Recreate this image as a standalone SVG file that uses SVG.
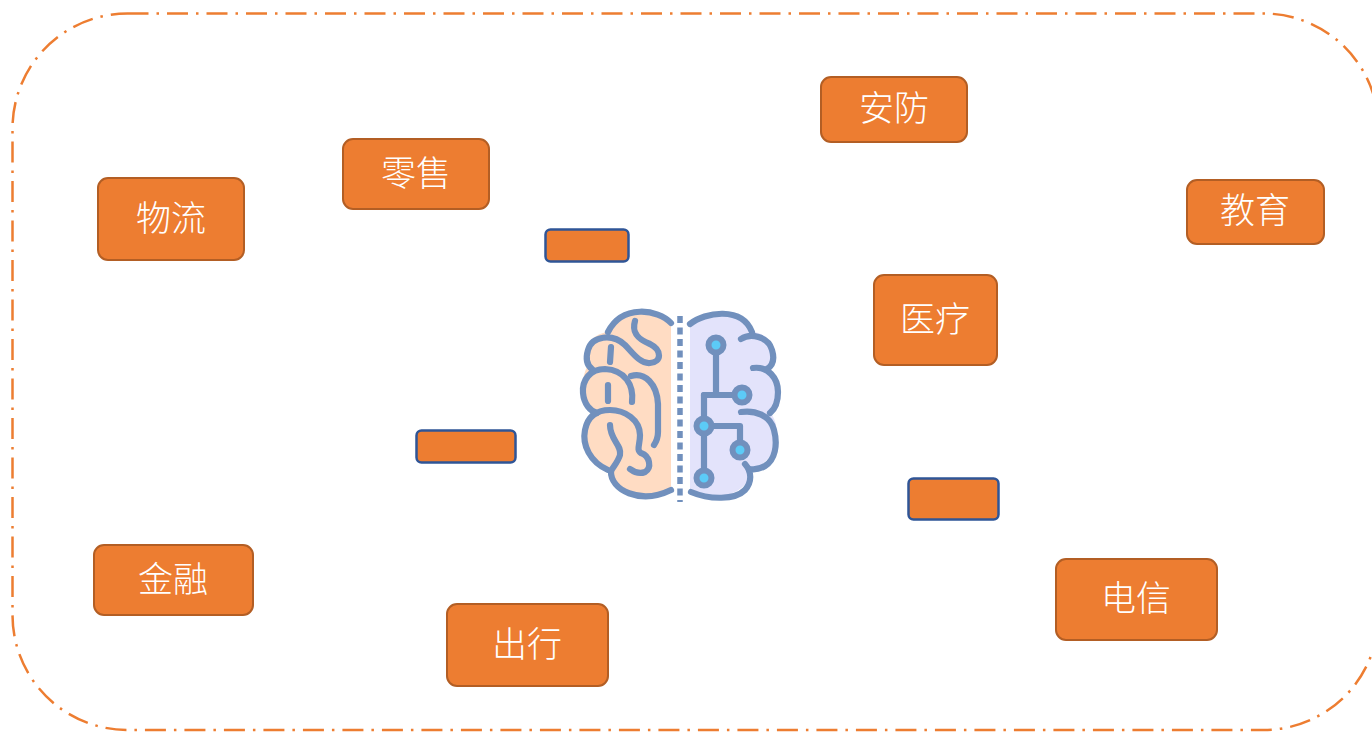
<svg xmlns="http://www.w3.org/2000/svg" width="1372" height="732" viewBox="0 0 1372 732">
  <style>
    .frame { fill: none; stroke: #ED7D31; stroke-width: 2.5; stroke-dasharray: 21 8 2.5 8; }
    .box { fill: #ED7D31; stroke: #B35E24; stroke-width: 2; }
    .tag { fill: #ED7D31; stroke: #2F5597; stroke-width: 2.5; }
    .label { fill: #FFFFFF; font-family: "Noto Sans CJK SC", "Noto Sans", sans-serif; font-size: 35px; font-weight: 300; text-anchor: middle; }
    .line { fill: none; stroke: #7190BD; stroke-width: 6.2; stroke-linecap: round; stroke-linejoin: round; }
    .node { fill: #5CCBF7; stroke: #7190BD; stroke-width: 6; }
  </style>

  <!-- dash-dot outer boundary -->
  <rect class="frame" x="12.5" y="13.5" width="1366" height="716.5" rx="115" ry="115"/>

  <!-- brain icon -->
  <g id="brain">
    <!-- left hemisphere fill -->
    <path d="M671,322 C658,309 622,304 608,332 C590,334 582,350 588,365 C580,380 580,400 592,412 C580,425 582,460 608,470 C612,492 640,505 671,490 Z" fill="#FFDCC3"/>
    <!-- right hemisphere fill -->
    <path d="M690,324 C705,312 742,306 752,332 C772,333 782,355 770,370 C782,380 785,405 772,415 C782,430 778,462 750,470 C752,490 720,505 690,492 Z" fill="#E3E3FB"/>

    <!-- left hemisphere folds -->
    <path class="line" d="M671,323 C658,309 622,304 608,332"/>
    <path class="line" d="M635,321 C631,334 640,340 650,344 C662,350 662,362 650,363 C640,364 632,352 625,345 C612,333 592,336 588,350 C585,360 588,366 592,369"/>
    <path class="line" d="M611,347 L610,362"/>
    <path class="line" d="M632,402 C634,385 625,370 605,369 C590,369 582,380 583,393 C584,404 590,411 597,413"/>
    <path class="line" d="M608,385 L608,401"/>
    <path class="line" d="M631,376 C645,372 657,384 658,404 L658,432 C658,438 656,442 654,445"/>
    <path class="line" d="M608,470 C590,462 582,445 585,430 C588,415 598,410 610,410 C625,410 640,420 640,435 C640,445 636,450 641,453 C650,456 652,468 645,472 C640,474 634,472 630,469"/>
    <path class="line" d="M610,425 C610,440 622,445 620,455 C618,462 613,467 611,471"/>
    <path class="line" d="M611,471 C610,490 640,505 671,490"/>

    <!-- center divider -->
    <line x1="680" y1="316" x2="680" y2="502" stroke="#7190BD" stroke-width="5.5" stroke-dasharray="7 4.5"/>

    <!-- right hemisphere outline -->
    <path class="line" d="M690,324 C705,312 742,306 752,332"/>
    <path class="line" d="M741,339 C750,333 768,336 772,350 C775,360 772,366 767,369"/>
    <path class="line" d="M753,368 C768,366 778,378 778,392 C778,402 775,409 770,413"/>
    <path class="line" d="M741,412 C755,410 770,415 774,430 C778,445 775,460 765,466 C760,469 754,470 749,469"/>
    <path class="line" d="M745,464 C752,472 752,482 745,490 C735,500 710,500 691,492"/>

    <!-- circuit traces -->
    <path class="line" d="M716,345 L716,395"/>
    <path class="line" d="M704,395 L742,395"/>
    <path class="line" d="M704,395 L704,478"/>
    <path class="line" d="M704,426 L740,426 L740,450"/>
    <circle class="node" cx="716" cy="345" r="7.5"/>
    <circle class="node" cx="742" cy="395" r="7.5"/>
    <circle class="node" cx="704" cy="426" r="7.5"/>
    <circle class="node" cx="740" cy="450" r="7.5"/>
    <circle class="node" cx="704" cy="478" r="7.5"/>
  </g>

  <!-- application fields -->
  <g id="logistics">
    <rect class="box" x="98" y="178" width="146" height="82" rx="10"/>
    <text class="label" x="171" y="231">物流</text>
  </g>
  <g id="retail">
    <rect class="box" x="343" y="139" width="146" height="70" rx="10"/>
    <text class="label" x="416" y="186">零售</text>
  </g>
  <g id="security">
    <rect class="box" x="821" y="77" width="146" height="65" rx="10"/>
    <text class="label" x="894" y="121">安防</text>
  </g>
  <g id="education">
    <rect class="box" x="1187" y="180" width="137" height="64" rx="10"/>
    <text class="label" x="1255" y="223">教育</text>
  </g>
  <g id="medical">
    <rect class="box" x="874" y="275" width="123" height="90" rx="10"/>
    <text class="label" x="935" y="332">医疗</text>
  </g>
  <g id="finance">
    <rect class="box" x="94" y="545" width="159" height="70" rx="10"/>
    <text class="label" x="173" y="592">金融</text>
  </g>
  <g id="travel">
    <rect class="box" x="447" y="604" width="161" height="82" rx="10"/>
    <text class="label" x="527" y="657">出行</text>
  </g>
  <g id="telecom">
    <rect class="box" x="1056" y="559" width="161" height="81" rx="10"/>
    <text class="label" x="1136" y="611">电信</text>
  </g>

  <!-- blank tags -->
  <g id="tag-1">
    <rect class="tag" x="545.5" y="229.5" width="83" height="32" rx="5"/>
  </g>
  <g id="tag-2">
    <rect class="tag" x="416.5" y="430.5" width="99" height="32" rx="5"/>
  </g>
  <g id="tag-3">
    <rect class="tag" x="908.5" y="478.5" width="90" height="41" rx="5"/>
  </g>

  <!-- no connectors are drawn -->
  <g id="connectors"/>
</svg>
